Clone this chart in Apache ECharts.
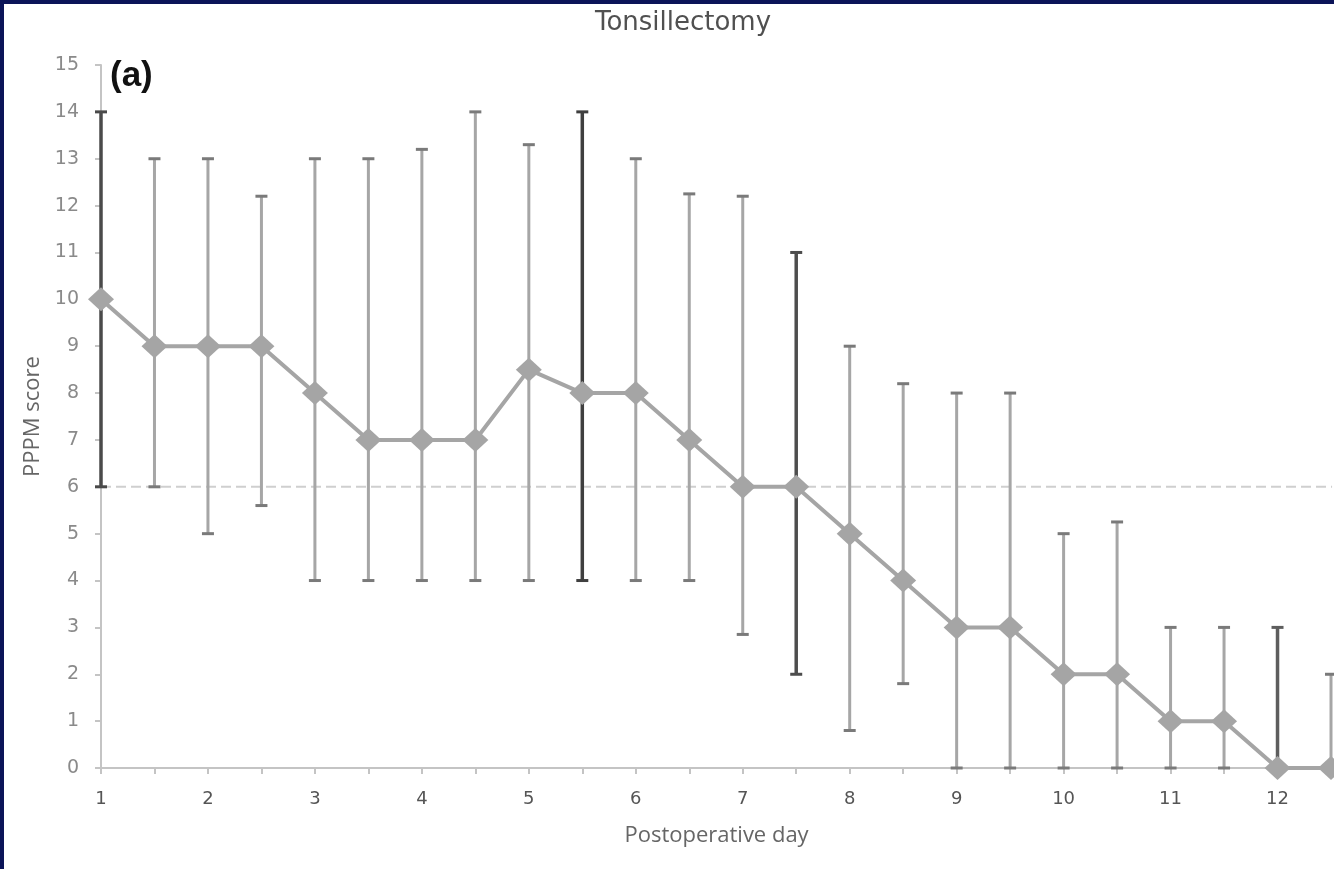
<!DOCTYPE html>
<html>
<head>
<meta charset="utf-8">
<script src="https://cdn.jsdelivr.net/npm/echarts@6/dist/echarts.min.js"></script>
<style>
html,body{margin:0;padding:0;background:#0b1458;}
#frame{position:absolute;left:4px;top:4px;width:1330px;height:865px;background:#fff;}
#chart{position:absolute;left:-4px;top:-4px;width:1334px;height:869px;}
</style>
</head>
<body>
<div id="frame"><div id="chart"></div></div>
<script>
// Postoperative day (half-day steps)
const days = [1,1.5,2,2.5,3,3.5,4,4.5,5,5.5,6,6.5,7,7.5,8,8.5,9,9.5,10,10.5,11,11.5,12,12.5];
// Median PPPM score
const medians = [10,9,9,9,8,7,7,7,8.5,8,8,7,6,6,5,4,3,3,2,2,1,1,0,0];
// Error bar low / high
const lows  = [6,6,5,5.6,4,4,4,4,4,4,4,4,2.85,2,0.8,1.8,0,0,0,0,0,0,0,0];
const highs = [14,13,13,12.2,13,13,13.2,14,13.3,14,13,12.25,12.2,11,9,8.2,8,8,5,5.25,3,3,3,2];
// Reference level
const refLevel = 6;
const xTickLabels = ['1','2','3','4','5','6','7','8','9','10','11','12'];

// style: darker error bars
const darkShade = {0:'#4a4a4a', 9:'#3f3f3f', 13:'#4d4d4d', 22:'#5e5e5e'};

const chart = echarts.init(document.getElementById('chart'));
const errData = days.map((d,i)=>[d, lows[i], highs[i]]);
const lineData = days.map((d,i)=>[d, medians[i]]);
const xMax = 12.51;

chart.setOption({
  animation:false,
  backgroundColor:'transparent',
  title:{
    text:'Tonsillectomy', left:678, top:5, textAlign:'center',
    textStyle:{fontFamily:'DejaVu Sans', fontSize:26, fontWeight:'normal', color:'#505050'}
  },
  graphic:[{
    type:'text', left:110, top:59,
    style:{text:'(a)', font:'bold 35px "Liberation Sans", Arial', fill:'#111'}
  }],
  grid:{left:101, right:0, top:65, bottom:101},
  xAxis:{
    type:'value', min:1, max:xMax, interval:0.5,
    name:'Postoperative day', nameLocation:'middle', nameGap:57,
    nameTextStyle:{fontFamily:'Open Sans', fontSize:22, color:'#666'},
    axisLine:{lineStyle:{color:'#c4c4c4', width:2}},
    axisTick:{length:6, lineStyle:{color:'#c4c4c4', width:2}},
    splitLine:{show:false},
    axisLabel:{
      margin:22, fontFamily:'DejaVu Sans', fontSize:18, color:'#555',
      showMaxLabel:false,
      formatter:v=>{
        const idx = xTickLabels.indexOf(String(v));
        return idx>=0 ? xTickLabels[idx] : '';
      }
    }
  },
  yAxis:{
    type:'value', min:0, max:15, interval:1,
    name:'PPPM score', nameLocation:'middle', nameGap:57, nameRotate:90,
    nameTextStyle:{fontFamily:'Open Sans', fontSize:22, color:'#666'},
    axisLine:{show:true, lineStyle:{color:'#c4c4c4', width:2}},
    axisTick:{show:true, length:6, lineStyle:{color:'#c4c4c4', width:2}},
    splitLine:{show:false},
    axisLabel:{margin:22, fontFamily:'DejaVu Sans', fontSize:19, color:'#8a8a8a'}
  },
  series:[
    {
      type:'line', data:[[1,refLevel],[xMax,refLevel]], symbol:'none', silent:true,
      lineStyle:{color:'#cfcfcf', width:2, type:[10,5]}, z:1
    },
    {
      type:'custom', z:2,
      renderItem:(params, api)=>{
        const x = api.value(0);
        const lo = api.coord([x, api.value(1)]);
        const hi = api.coord([x, api.value(2)]);
        const c = darkShade[params.dataIndex] || '#a6a6a6';
        const dark = params.dataIndex in darkShade;
        const capC = dark ? c : '#7a7a7a';
        const w = 6;
        return {type:'group', children:[
          {type:'line', shape:{x1:hi[0],y1:hi[1],x2:lo[0],y2:lo[1]}, style:{stroke:c, lineWidth:dark?3.5:3}},
          {type:'line', shape:{x1:hi[0]-w,y1:hi[1],x2:hi[0]+w,y2:hi[1]}, style:{stroke:capC, lineWidth:3}},
          {type:'line', shape:{x1:lo[0]-w,y1:lo[1],x2:lo[0]+w,y2:lo[1]}, style:{stroke:capC, lineWidth:3}}
        ]};
      },
      encode:{x:0, y:[1,2]},
      data:errData
    },
    {
      type:'line', data:lineData, z:3,
      symbol:'diamond', symbolSize:[26,24],
      itemStyle:{color:'#a5a5a5'},
      lineStyle:{color:'#a5a5a5', width:4}
    }
  ]
});
</script>
</body>
</html>
